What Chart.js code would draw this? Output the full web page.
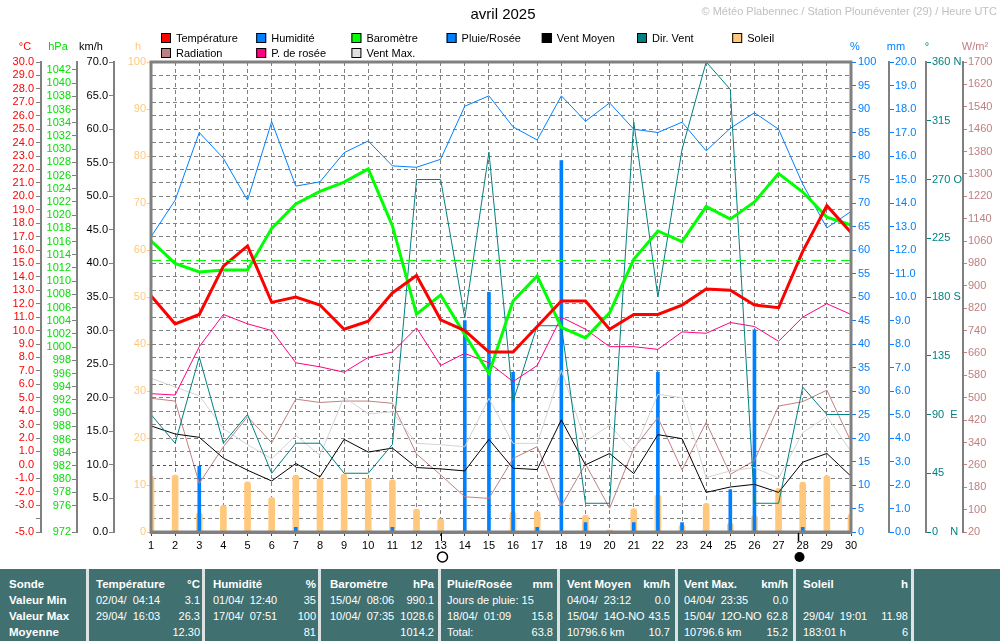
<!DOCTYPE html>
<html lang="fr">
<head>
<meta charset="utf-8">
<title>Météo Plabennec - avril 2025</title>
<script src="https://cdn.jsdelivr.net/npm/chart.js@4/dist/chart.umd.min.js"></script>
<style>
  body { margin: 0; background: #fff; }
  #page { position: relative; width: 1000px; height: 641px; overflow: hidden; font-family: "Liberation Sans", Arial, sans-serif; }
  #graphique { position: absolute; left: 0; top: 0; }
  #tableau { position: absolute; left: 0; top: 569px; width: 1000px; height: 72px; background: #407070; color: #fff; font-size: 11px; }
  .col { position: absolute; top: 0; height: 72px; padding-top: 7px; box-sizing: border-box; }
  .sep { position: absolute; top: 0; width: 3px; height: 72px; background: #dde2e2; }
  .l { display: flex; justify-content: space-between; height: 16px; line-height: 16px; white-space: pre; }
  .b { font-weight: bold; font-size: 11.5px; }
</style>
</head>
<body>
<div id="page">
  <canvas id="graphique" width="1000" height="570"></canvas>
  <div id="tableau">
    <div class="col" style="left:9px;width:76px">
      <div class="l b"><span>Sonde</span></div>
      <div class="l b"><span>Valeur Min</span></div>
      <div class="l b"><span>Valeur Max</span></div>
      <div class="l b"><span>Moyenne</span></div>
    </div>
    <div class="sep" style="left:86px"></div>
    <div class="col" style="left:96px;width:104px">
      <div class="l b"><span>Température</span><span>°C</span></div>
      <div class="l"><span>02/04/  04:14</span><span>3.1</span></div>
      <div class="l"><span>29/04/  16:03</span><span>26.3</span></div>
      <div class="l"><span></span><span>12.30</span></div>
    </div>
    <div class="sep" style="left:202px"></div>
    <div class="col" style="left:213px;width:103px">
      <div class="l b"><span>Humidité</span><span>%</span></div>
      <div class="l"><span>01/04/  12:40</span><span>35</span></div>
      <div class="l"><span>17/04/  07:51</span><span>100</span></div>
      <div class="l"><span></span><span>81</span></div>
    </div>
    <div class="sep" style="left:318px"></div>
    <div class="col" style="left:330px;width:104px">
      <div class="l b"><span>Baromètre</span><span>hPa</span></div>
      <div class="l"><span>15/04/  08:06</span><span>990.1</span></div>
      <div class="l"><span>10/04/  07:35</span><span>1028.6</span></div>
      <div class="l"><span></span><span>1014.2</span></div>
    </div>
    <div class="sep" style="left:438px"></div>
    <div class="col" style="left:447px;width:106px">
      <div class="l b"><span>Pluie/Rosée</span><span>mm</span></div>
      <div class="l"><span>Jours de pluie: 15</span><span></span></div>
      <div class="l"><span>18/04/  01:09</span><span>15.8</span></div>
      <div class="l"><span>Total:</span><span>63.8</span></div>
    </div>
    <div class="sep" style="left:557px"></div>
    <div class="col" style="left:567px;width:103px">
      <div class="l b"><span>Vent Moyen</span><span>km/h</span></div>
      <div class="l"><span>04/04/  23:12</span><span>0.0</span></div>
      <div class="l"><span>15/04/  14O-NO</span><span>43.5</span></div>
      <div class="l"><span>10796.6 km</span><span>10.7</span></div>
    </div>
    <div class="sep" style="left:675px"></div>
    <div class="col" style="left:684px;width:104px">
      <div class="l b"><span>Vent Max.</span><span>km/h</span></div>
      <div class="l"><span>04/04/  23:35</span><span>0.0</span></div>
      <div class="l"><span>15/04/  12O-NO</span><span>62.8</span></div>
      <div class="l"><span>10796.6 km</span><span>15.2</span></div>
    </div>
    <div class="sep" style="left:793px"></div>
    <div class="col" style="left:803px;width:105px">
      <div class="l b"><span>Soleil</span><span>h</span></div>
      <div class="l"><span></span><span></span></div>
      <div class="l"><span>29/04/  19:01</span><span>11.98</span></div>
      <div class="l"><span>183:01 h</span><span>6</span></div>
    </div>
    <div class="sep" style="left:911px"></div>
  </div>
</div>
<script>
// Données journalières d'avril 2025
const jours = ['1','2','3','4','5','6','7','8','9','10','11','12','13','14','15',
               '16','17','18','19','20','21','22','23','24','25','26','27','28','29','30'];

const temperature = [12.6,10.5,11.2,14.8,16.3,12.1,12.5,11.9,10.1,10.7,12.8,14.1,10.8,10.0,8.4,
                     8.4,10.3,12.2,12.2,10.1,11.2,11.2,11.9,13.1,13.0,11.9,11.7,15.9,19.3,17.3];
const humidite = [62.8,70.6,85.0,79.5,70.6,87.3,73.6,74.5,80.7,83.2,77.9,77.6,79.3,90.6,92.8,
                  86.2,83.4,92.8,87.4,91.3,85.7,85.0,87.2,81.1,85.9,89.2,85.7,74.0,64.7,68.2];
const barometre = [1016.1,1012.7,1011.4,1011.7,1011.7,1018.0,1021.7,1023.6,1025.0,1027.0,1018.4,1005.0,1007.9,1001.9,996.0,
                   1007.0,1010.8,1003.0,1001.4,1005.2,1013.3,1017.6,1016.0,1021.3,1019.4,1022.0,1026.3,1023.5,1019.7,1018.5];
const rosee = [5.3,5.2,8.8,11.2,10.5,10.0,7.6,7.3,6.9,8.0,8.4,10.2,7.4,8.3,7.6,
               6.2,7.4,11.0,10.1,8.8,8.8,8.6,9.9,9.8,10.6,10.3,9.2,11.0,12.0,11.2];
const radiation = [498,488,194,325,432,339,495,483,488,488,480,299,224,146,140,
                   283,325,113,263,105,319,429,242,412,226,275,470,486,527,343];
const ventMoyen = [15.8,14.6,14.1,11.0,9.2,7.6,10.2,8.2,13.8,11.9,12.5,9.6,9.4,9.1,13.8,
                   9.5,9.3,16.7,10.0,11.7,8.7,14.5,13.9,5.9,6.7,7.1,5.9,10.4,11.7,8.3];
const ventMax = [22.9,21.6,20.3,15.4,13.0,10.9,14.4,11.4,20.1,17.6,17.9,13.2,13.0,12.7,19.9,
                 13.2,13.2,24.1,13.5,15.9,12.0,20.5,20.0,8.1,9.1,9.6,8.0,14.8,17.2,12.0];
const dirVent = [90,68,134,68,90,45,68,68,45,45,67,270,270,164,291,
                 100,158,158,22,22,314,180,293,360,339,22,22,111,90,90];
const pluie = [0,0,2.8,0,0,0,0.2,0,0,0,0.2,0,0,9.0,10.2,
               6.8,0.2,15.8,0.4,0,0.4,6.8,0.4,0,1.8,8.6,0,0.2,0,0];
const soleil = [11.9,12.1,4.0,5.7,10.7,7.4,12.1,11.4,12.3,11.4,11.1,4.9,2.8,0,0,
                4.3,4.4,0,3.6,0.4,5.0,7.9,1.5,6.1,1.9,3.5,9.3,10.6,12.0,3.8];

// phases de la lune (jour décimal) : pleine lune le 13, nouvelle lune le 27 au soir
const luneJours = [13.02, 27.81];
const luneTypes = ['pleine', 'nouvelle'];

// graduations des axes
const ticksTemp = [-5,-4,-3,-2,-1,0,1,2,3,4,5,6,7,8,9,10,11,12,13,14,15,16,17,18,19,20,21,22,23,24,25,26,27,28,29,30];
const ticksPression = [972,976,978,980,982,984,986,988,990,992,994,996,998,1000,1002,1004,1006,1008,1010,1012,1014,
                       1016,1018,1020,1022,1024,1026,1028,1030,1032,1034,1036,1038,1040,1042];
const ticksVent = [0,5,10,15,20,25,30,35,40,45,50,55,60,65,70];
const ticksSoleil = [0,10,20,30,40,50,60,70,80,90,100];
const ticksHum = [0,5,10,15,20,25,30,35,40,45,50,55,60,65,70,75,80,85,90,95,100];
const ticksPluie = [0,1,2,3,4,5,6,7,8,9,10,11,12,13,14,15,16,17,18,19,20];
const ticksDir = [0,45,90,135,180,225,270,315,360];
const libellesDir = ['0    N','45','90  E','135','180 S','225','270 O','315','360 N'];
const ticksRad = [20,100,180,260,340,420,500,580,660,740,820,900,980,1060,1140,1220,1300,1380,1460,1540,1620,1700];

// lignes de référence (1013.25 hPa et 0 °C)
const lignesRef = [
  { axe: 'yBaro', valeur: 1013.25, couleur: '#00ff00', tirets: [10, 5] },
  { axe: 'yTemp', valeur: 0, couleur: '#ff0000', tirets: [3, 3] }
];

const unites = [
  ['°C', '#ff0000', 25], ['hPa', '#00e000', 58], ['km/h', '#000000', 91], ['h', '#ffc87c', 138],
  ['%', '#0080ff', 855], ['mm', '#0080ff', 896], ['°', '#008080', 927], ['W/m²', '#c08080', 975]
];

Chart.defaults.font.family = '"Liberation Sans", Arial, sans-serif';
Chart.defaults.font.size = 11;

function graduations(valeurs) {
  return function(scale) { scale.ticks = valeurs.map(v => ({ value: v })); };
}
function largeur(l) {
  return function(scale) { scale.width = l; };
}
const brut = v => String(v);
const decimal = v => v.toFixed(1);

function axeY(position, poids, l, min, max, ticks, couleur, opts) {
  return Object.assign({
    type: 'linear', position: position, weight: poids, min: min, max: max,
    afterBuildTicks: graduations(ticks), afterFit: largeur(l),
    ticks: { color: couleur, padding: 1, autoSkip: false, callback: brut },
    grid: { drawOnChartArea: false, color: '#808080', tickLength: 5, tickColor: position === 'left' ? '#808080' : couleur, lineWidth: 1 },
    border: { display: true, color: '#808080', width: 2 }
  }, opts);
}

const pluginDessin = {
  id: 'dessin',
  afterDatasetsDraw(chart) {
    const ctx = chart.ctx, a = chart.chartArea;
    ctx.save();
    ctx.lineWidth = 1;
    lignesRef.forEach(r => {
      const y = Math.round(chart.scales[r.axe].getPixelForValue(r.valeur)) + 0.5;
      ctx.strokeStyle = r.couleur;
      ctx.setLineDash(r.tirets);
      ctx.beginPath(); ctx.moveTo(a.left, y); ctx.lineTo(a.right, y); ctx.stroke();
    });
    ctx.restore();
  },
  afterDraw(chart) {
    const ctx = chart.ctx, a = chart.chartArea, sx = chart.scales.x;
    ctx.save();
    // cadre
    ctx.strokeStyle = '#808080';
    ctx.lineWidth = 3;
    ctx.strokeRect(a.left, a.top, a.right - a.left, a.bottom - a.top);

    // titre et copyright
    ctx.fillStyle = '#000';
    ctx.textBaseline = 'middle';
    ctx.textAlign = 'center';
    ctx.font = '15px "Liberation Sans", Arial, sans-serif';
    ctx.fillText('avril 2025', 503, 15);
    ctx.textAlign = 'right';
    ctx.fillStyle = '#c0c0c0';
    ctx.font = '11px "Liberation Sans", Arial, sans-serif';
    ctx.fillText('© Météo Plabennec / Station Plounéventer (29) / Heure UTC', 997, 12);

    // légende
    ctx.textAlign = 'left';
    chart.data.datasets.forEach(ds => {
      if (!ds.legende) return;
      const x = 161 + ds.legende[0] * 95.2, y = 33 + ds.legende[1] * 15;
      ctx.fillStyle = ds.couleurLegende || ds.backgroundColor;
      ctx.fillRect(x, y, 10, 10);
      ctx.strokeStyle = '#000'; ctx.lineWidth = 1;
      ctx.strokeRect(x + 0.5, y + 0.5, 9, 9);
      ctx.fillStyle = '#000';
      ctx.fillText(ds.label, x + 15, y + 5.5);
    });

    // unités des axes
    ctx.textAlign = 'center';
    unites.forEach(u => {
      ctx.fillStyle = u[1];
      ctx.fillText(u[0], u[2], 47);
    });

    // phases de la lune
    ctx.strokeStyle = '#000'; ctx.fillStyle = '#000'; ctx.lineWidth = 1;
    luneJours.forEach((j, i) => {
      const x = Math.round(sx.getPixelForValue(j - 1)) + 0.5;
      ctx.beginPath(); ctx.moveTo(x, a.bottom + 1); ctx.lineTo(x, a.bottom + 9); ctx.stroke();
      ctx.beginPath(); ctx.arc(x + 1, a.bottom + 25, 5, 0, Math.PI * 2);
      if (luneTypes[i] === 'nouvelle') ctx.fill(); else { ctx.lineWidth = 1.5; ctx.stroke(); }
    });
    ctx.restore();
  }
};

function ligne(label, data, axe, couleur, epaisseur, ordre, legende, couleurLegende) {
  return {
    type: 'line', label: label, data: data, yAxisID: axe,
    borderColor: couleur, backgroundColor: couleur, borderWidth: epaisseur,
    pointRadius: 0, tension: 0, fill: false, order: ordre,
    legende: legende, couleurLegende: couleurLegende
  };
}

new Chart(document.getElementById('graphique'), {
  type: 'bar',
  data: {
    labels: jours,
    datasets: [
      ligne('Température', temperature, 'yTemp', '#ff0000', 3, 1, [0, 0]),
      ligne('Baromètre', barometre, 'yBaro', '#00ff00', 3, 2, [2, 0]),
      ligne('Humidité', humidite, 'yHum', '#0080ff', 1, 3, [1, 0]),
      ligne('P. de rosée', rosee, 'yTemp', '#ff0080', 1, 4, [1, 1]),
      ligne('Dir. Vent', dirVent, 'yDir', '#008080', 1, 5, [5, 0]),
      ligne('Vent Moyen', ventMoyen, 'yVent', '#000000', 1, 6, [4, 0]),
      ligne('Vent Max.', ventMax, 'yVent', '#d4d4d4', 1, 7, [2, 1], '#e0e0e0'),
      ligne('Radiation', radiation, 'yRad', '#c08080', 1, 8, [0, 1]),
      {
        type: 'bar', label: 'Pluie/Rosée', data: pluie, yAxisID: 'yPluie',
        backgroundColor: '#0080ff', barThickness: 3, grouped: false, order: 10, legende: [3, 0]
      },
      {
        type: 'bar', label: 'Soleil', data: soleil, yAxisID: 'ySoleil',
        backgroundColor: '#ffc87c', barThickness: 6, grouped: false, order: 11,
        borderRadius: { topLeft: 3, topRight: 3 }, borderSkipped: 'start', legende: [6, 0]
      }
    ]
  },
  options: {
    responsive: false,
    animation: false,
    devicePixelRatio: 1,
    layout: { padding: { top: 62, left: 0, right: 0, bottom: 0 } },
    plugins: { legend: { display: false }, tooltip: { enabled: false }, title: { display: false } },
    scales: {
      x: {
        type: 'category', offset: false,
        afterFit: s => { s.height = 38; },
        ticks: { color: '#000', autoSkip: false, maxRotation: 0, padding: 3 },
        grid: { offset: false, color: '#808080', tickLength: 4, tickColor: '#404040', lineWidth: 1 },
        border: { display: true, color: '#808080', width: 3, dash: [4, 3] }
      },
      yTemp: axeY('left', 4, 41, -5, 30, ticksTemp, '#ff0000', {
        ticks: { color: '#ff0000', padding: 2, autoSkip: false, callback: v => v === -4 ? '' : v.toFixed(1) },
        grid: {
          drawOnChartArea: true, tickLength: 5, tickColor: '#808080', color: '#808080',
          lineWidth: c => (c.tick && c.tick.value === 0) ? 0 : 1
        },
        border: { display: true, color: '#808080', width: 2, dash: [4, 3] }
      }),
      yBaro: axeY('left', 3, 36, 972, 1043.2, ticksPression, '#00e000'),
      yVent: axeY('left', 2, 37, 0, 70, ticksVent, '#000000', {
        ticks: { color: '#000', padding: 1, autoSkip: false, callback: decimal }
      }),
      ySoleil: axeY('left', 1, 37, 0, 100, ticksSoleil, '#ffc87c', {
        grid: { drawOnChartArea: false, tickLength: 4, tickColor: '#ffc87c', lineWidth: 1 },
        border: { display: false }
      }),
      yHum: axeY('right', 1, 38, 0, 100, ticksHum, '#0080ff', {
        ticks: { color: '#0080ff', padding: 2, autoSkip: false, callback: brut },
        border: { display: false }
      }),
      yPluie: axeY('right', 2, 37, 0, 20, ticksPluie, '#0080ff', {
        ticks: { color: '#0080ff', padding: 1, autoSkip: false, callback: decimal }
      }),
      yDir: axeY('right', 3, 37, 0, 360, ticksDir, '#008080', {
        ticks: { color: '#008080', padding: 1, autoSkip: false, callback: v => libellesDir[ticksDir.indexOf(v)] }
      }),
      yRad: axeY('right', 4, 37, 20, 1700, ticksRad, '#c08080', {
        grid: { drawOnChartArea: false, color: '#808080', tickLength: 4, tickColor: '#c08080', lineWidth: 1 }
      })
    }
  },
  plugins: [pluginDessin]
});
</script>
</body>
</html>
